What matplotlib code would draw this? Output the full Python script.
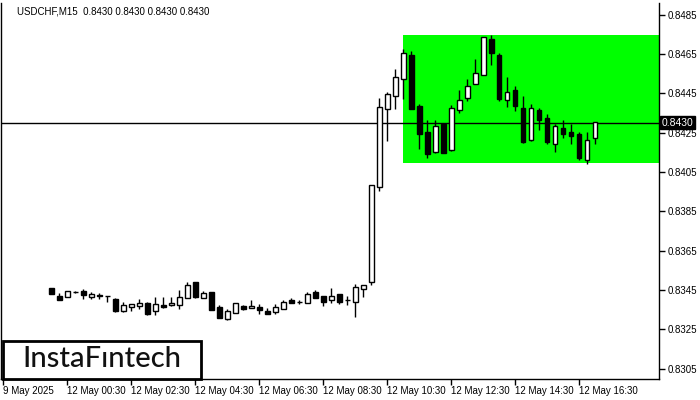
import numpy as np
import matplotlib
matplotlib.use("Agg")
import matplotlib.pyplot as plt
from matplotlib.patches import Rectangle

# USDCHF M15 candles, 12 May 2025 00:00 .. 17:00
opens = [0.83460, 0.83422, 0.83416, 0.83440, 0.83443, 0.83416, 0.83423, 0.83419, 0.83406, 0.83341,
         0.83363, 0.83368, 0.83385, 0.83341, 0.83372, 0.83372, 0.83372, 0.83409, 0.83491, 0.83409,
         0.83440, 0.83365, 0.83301, 0.83334, 0.83371, 0.83360, 0.83363, 0.83343, 0.83340, 0.83353,
         0.83401, 0.83391, 0.83384, 0.83438, 0.83418, 0.83397, 0.83428, 0.83398, 0.83389, 0.83457,
         0.83491, 0.83972, 0.84372, 0.84435, 0.84521, 0.84644, 0.84384, 0.84252, 0.84150, 0.84294,
         0.84160, 0.84364, 0.84425, 0.84496, 0.84542, 0.84725, 0.84644, 0.84415, 0.84466, 0.84374,
         0.84211, 0.84364, 0.84323, 0.84191, 0.84272, 0.84252, 0.84242, 0.84113, 0.84221]
highs = [0.83462, 0.83435, 0.83447, 0.83445, 0.83457, 0.83440, 0.83436, 0.83420, 0.83408, 0.83389,
         0.83380, 0.83403, 0.83389, 0.83416, 0.83416, 0.83416, 0.83450, 0.83491, 0.83493, 0.83443,
         0.83441, 0.83372, 0.83355, 0.83383, 0.83372, 0.83397, 0.83380, 0.83360, 0.83380, 0.83397,
         0.83411, 0.83401, 0.83438, 0.83448, 0.83419, 0.83459, 0.83429, 0.83419, 0.83480, 0.83478,
         0.83983, 0.84426, 0.84457, 0.84572, 0.84674, 0.84664, 0.84396, 0.84315, 0.84315, 0.84300,
         0.84392, 0.84467, 0.84521, 0.84626, 0.84737, 0.84748, 0.84654, 0.84532, 0.84486, 0.84435,
         0.84394, 0.84374, 0.84343, 0.84293, 0.84313, 0.84293, 0.84252, 0.84252, 0.84305]
lows = [0.83428, 0.83397, 0.83415, 0.83437, 0.83406, 0.83406, 0.83406, 0.83389, 0.83338, 0.83340,
        0.83341, 0.83352, 0.83323, 0.83324, 0.83360, 0.83371, 0.83352, 0.83408, 0.83409, 0.83408,
        0.83347, 0.83306, 0.83300, 0.83333, 0.83350, 0.83359, 0.83329, 0.83328, 0.83329, 0.83352,
        0.83383, 0.83380, 0.83383, 0.83407, 0.83370, 0.83384, 0.83380, 0.83374, 0.83311, 0.83416,
        0.83477, 0.83952, 0.84209, 0.84372, 0.84423, 0.84371, 0.84169, 0.84123, 0.84149, 0.84147,
        0.84159, 0.84352, 0.84413, 0.84495, 0.84541, 0.84593, 0.84413, 0.84382, 0.84362, 0.84200,
        0.84210, 0.84262, 0.84191, 0.84150, 0.84221, 0.84191, 0.84113, 0.84092, 0.84191]
closes = [0.83430, 0.83399, 0.83446, 0.83441, 0.83423, 0.83430, 0.83422, 0.83418, 0.83345, 0.83372,
          0.83379, 0.83385, 0.83328, 0.83379, 0.83362, 0.83382, 0.83416, 0.83477, 0.83416, 0.83433,
          0.83348, 0.83307, 0.83345, 0.83382, 0.83351, 0.83370, 0.83350, 0.83329, 0.83363, 0.83387,
          0.83384, 0.83390, 0.83428, 0.83408, 0.83387, 0.83418, 0.83387, 0.83400, 0.83467, 0.83477,
          0.83982, 0.84382, 0.84445, 0.84532, 0.84654, 0.84372, 0.84242, 0.84143, 0.84283, 0.84148,
          0.84374, 0.84415, 0.84486, 0.84552, 0.84735, 0.84654, 0.84423, 0.84455, 0.84384, 0.84201,
          0.84374, 0.84313, 0.84201, 0.84283, 0.84242, 0.84232, 0.84123, 0.84211, 0.84302]

# rectangle pattern (bar where it starts, top, bottom)
rect_start = 44
rect_top = 0.84748
rect_bottom = 0.84098
last_price = 0.8430

price_ticks = [0.8305, 0.8325, 0.8345, 0.8365, 0.8385, 0.8405, 0.8425, 0.8445, 0.8465, 0.8485]
time_tick_pos = [-6, 2, 10, 18, 26, 34, 42, 50, 58, 66]
time_tick_labels = ["9 May 2025", "12 May 00:30", "12 May 02:30", "12 May 04:30", "12 May 06:30",
                    "12 May 08:30", "12 May 10:30", "12 May 12:30", "12 May 14:30", "12 May 16:30"]

plt.rcParams['font.family'] = ['Liberation Sans', 'DejaVu Sans']

fig = plt.figure(figsize=(7, 4), dpi=100)
ax = fig.add_axes([1 / 700, 21 / 400, 658 / 700, 376 / 400])

x = np.arange(len(opens))
o = np.array(opens)
c = np.array(closes)
up = c >= o

# green rectangle
ax.add_patch(Rectangle((rect_start, rect_bottom), 100, rect_top - rect_bottom,
                       facecolor='#00ff00', edgecolor='none', zorder=0))
ax.axhline(last_price, color='black', lw=1, zorder=1)

# wicks, then bodies
ax.vlines(x, lows, highs, color='black', lw=1, zorder=2)
ax.bar(x[up], (c - o)[up], bottom=o[up], width=0.6, color='white', edgecolor='black', lw=1, zorder=3)
ax.bar(x[~up], (o - c)[~up], bottom=c[~up], width=0.6, color='black', edgecolor='black', lw=1, zorder=3)

ax.set_xlim(-6.3, 76.0)
ax.set_ylim(0.829975, 0.849094)

ax.spines['top'].set_visible(False)
ax.yaxis.tick_right()
ax.set_yticks(price_ticks)
ax.set_yticklabels(["%.4f" % p for p in price_ticks])
ax.set_xticks(time_tick_pos)
ax.set_xticklabels(time_tick_labels, ha='left')
ax.tick_params(axis='both', direction='out', length=4, width=1, labelsize=7, pad=2)
ax.tick_params(axis='x', pad=1)
for sp in ['left', 'right', 'bottom']:
    ax.spines[sp].set_linewidth(1)

# current price label on the scale
ax.text(1.004, last_price, "%.4f" % last_price, transform=ax.get_yaxis_transform(),
        color='white', fontsize=7.5, va='center', ha='left',
        bbox=dict(boxstyle='square,pad=0.15', facecolor='black', edgecolor='black'))

fig.text(17 / 700, 1 - 11 / 400, "USDCHF,M15  0.8430 0.8430 0.8430 0.8430", fontsize=7,
         va='center', ha='left')

# logo
fig.patches.append(Rectangle((3 / 700, 21 / 400), 198 / 700, 38 / 400, transform=fig.transFigure,
                             facecolor='white', edgecolor='black', lw=2, zorder=5))
fig.text(102 / 700, 1 - 359 / 400, "InstaF\u0131ntech", fontsize=21, family='Lato',
         fontweight='medium', va='center', ha='center', zorder=6, color='#111111')

fig.savefig("out.png", dpi=100)
